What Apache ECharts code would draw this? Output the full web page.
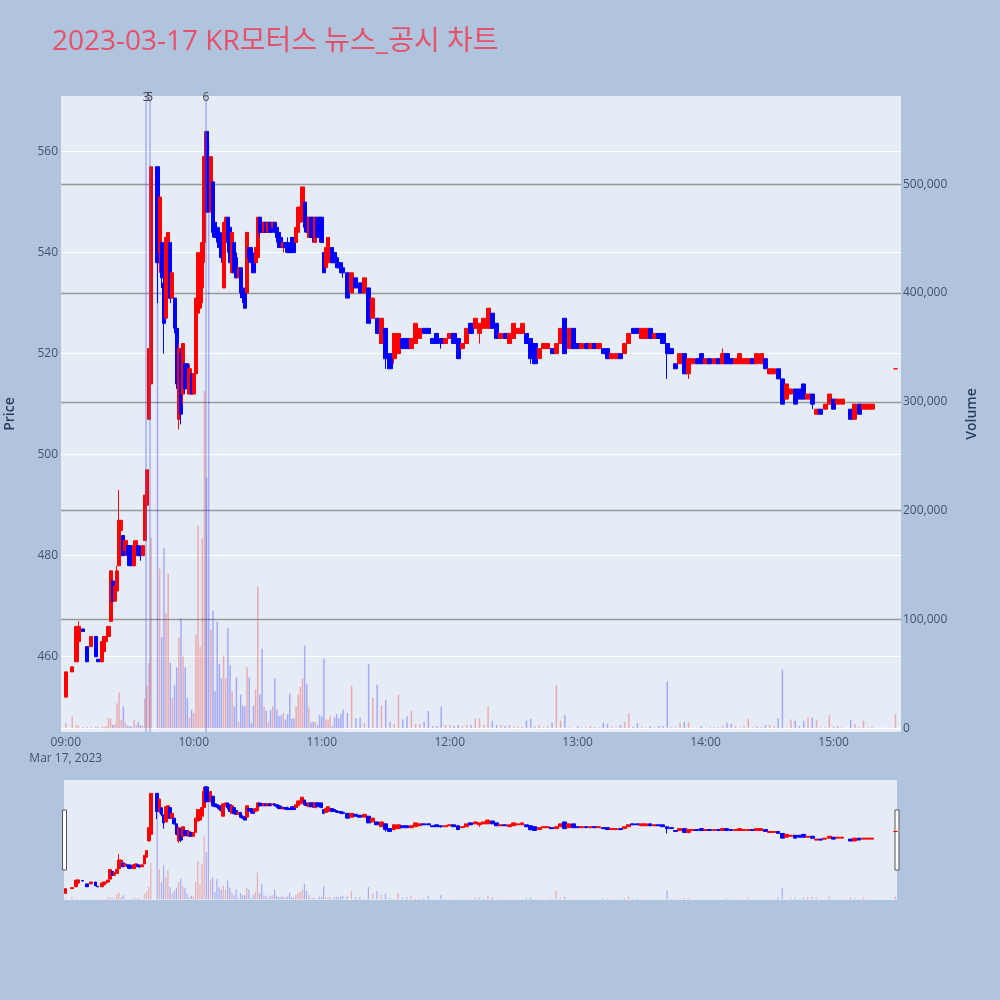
<!DOCTYPE html>
<html>
<head>
<meta charset="utf-8">
<title>KR모터스 뉴스_공시 차트</title>
<script src="https://cdn.jsdelivr.net/npm/echarts@6/dist/echarts.min.js"></script>
<style>
  html, body { margin: 0; padding: 0; background: #B0C4DE; }
  #chart { width: 1000px; height: 1000px; }
</style>
</head>
<body>
<div id="chart"></div>
<script>
// 분봉 데이터 (09:00 기준 경과 분)
const times = [
  0, 3, 5, 6, 8, 10, 12, 14, 15, 17,
  18, 19, 20, 21, 22, 23, 24, 25, 26, 27,
  28, 29, 30, 31, 32, 33, 34, 35, 36, 37,
  38, 39, 40, 43, 44, 45, 46, 47, 48, 49,
  50, 51, 52, 53, 54, 55, 56, 57, 58, 59,
  60, 61, 62, 63, 64, 65, 66, 67, 68, 69,
  70, 71, 72, 73, 74, 75, 76, 77, 78, 79,
  80, 81, 82, 83, 84, 85, 86, 87, 88, 89,
  90, 91, 92, 93, 94, 95, 96, 97, 98, 99,
  100, 101, 102, 103, 104, 105, 106, 107, 108, 109,
  110, 111, 112, 113, 114, 115, 116, 117, 118, 119,
  120, 121, 122, 123, 124, 125, 126, 127, 128, 129,
  130, 132, 134, 136, 138, 140, 142, 144, 146, 148,
  150, 152, 154, 156, 158, 160, 162, 164, 166, 168,
  170, 172, 174, 176, 178, 180, 182, 184, 186, 188,
  190, 192, 194, 196, 198, 200, 202, 204, 206, 208,
  210, 212, 214, 216, 218, 220, 222, 224, 226, 228,
  230, 232, 234, 236, 238, 240, 242, 244, 246, 248,
  250, 252, 254, 256, 258, 260, 262, 264, 266, 268,
  270, 272, 274, 276, 278, 280, 282, 284, 286, 288,
  290, 292, 294, 296, 298, 300, 302, 304, 306, 308,
  310, 312, 314, 316, 318, 320, 322, 324, 326, 328,
  330, 332, 334, 336, 338, 340, 342, 344, 346, 348,
  350, 352, 354, 356, 358, 360, 362, 364, 368, 370,
  372, 374, 376, 378, 389
];
const opens = [
  452, 457, 459, 463, 465.5, 462, 462, 464, 459.5, 459,
  461, 463, 464, 467, 475, 471, 473, 478, 485, 484,
  481, 482, 482, 481, 478, 482, 482, 481, 480, 483,
  490, 507, 514, 557, 540, 542, 534, 527, 531, 542,
  531, 531, 525, 507, 520, 512, 518, 518, 512, 516,
  512, 516, 528, 529, 533, 542, 564, 556, 548, 554,
  546, 545, 544, 542, 533, 544, 547, 545, 536, 542,
  539, 535, 537, 533, 532, 532, 541, 541, 539, 538,
  539, 547, 546, 544, 546, 544, 546, 545, 546, 545,
  544, 543, 541, 542, 542, 541, 543, 543, 542, 544,
  546, 548, 550, 547, 543, 547, 547, 542, 547, 547,
  547, 540, 537, 538, 539, 541, 540, 539, 538, 538,
  537, 536, 532, 535, 534, 532, 533, 527, 527, 522,
  525, 520, 519, 520, 523, 523, 521, 522, 523, 525,
  525, 523, 524, 523, 522, 523, 524, 523, 521, 522,
  526, 525, 524, 525, 525, 528, 526, 523, 524, 522,
  523, 524, 524, 524, 523, 522, 519, 521, 521, 521,
  520, 522, 527, 521, 525, 522, 521, 522, 521, 522,
  521, 521, 521, 519, 519, 520, 520, 522, 525, 525,
  523, 523, 525, 523, 524, 524, 522, 521, 518, 518,
  520, 516, 518, 519, 520, 518, 519, 518, 519, 518,
  520, 519, 518, 518, 518, 518, 519, 518, 518, 519,
  516, 516, 517, 515, 511, 512, 513, 513, 514, 511,
  512, 508, 509, 509, 510, 511, 510, 510, 509, 507,
  510, 509, 509, 509, 517
];
const closes = [
  457, 458, 466, 466, 465, 459, 464, 460, 459, 463,
  464, 464, 466, 477, 471, 474, 477, 487, 487, 480,
  483, 480, 478, 479, 482, 483, 480, 480, 482, 492,
  497, 521, 557, 538, 551, 535, 526, 543, 544, 531,
  536, 525, 514, 521, 508, 522, 513, 515, 517, 512,
  516, 531, 540, 534, 542, 559, 548, 549, 559, 544,
  543, 543, 541, 539, 546, 547, 542, 538, 544, 536,
  535, 537, 532, 531, 529, 544, 539, 538, 536, 541,
  547, 544, 544, 546, 544, 546, 544, 546, 544, 543,
  541, 541, 542, 541, 540, 540, 540, 540, 545, 549,
  549, 553, 545, 544, 547, 543, 543, 547, 543, 544,
  542, 536, 541, 543, 541, 538, 538, 537, 537, 536,
  536, 531, 536, 533, 532, 535, 526, 531, 524, 527,
  519, 517, 524, 524, 521, 521, 523, 526, 525, 524,
  524, 522, 522, 522, 523, 524, 522, 519, 522, 525,
  524, 527, 526, 527, 529, 525, 523, 524, 523, 524,
  526, 525, 526, 522, 519, 518, 521, 522, 522, 520,
  522, 525, 520, 525, 521, 521, 522, 521, 522, 521,
  522, 520, 519, 520, 520, 519, 522, 524, 524, 524,
  525, 525, 523, 524, 523, 522, 520, 520, 517, 520,
  516, 519, 519, 518, 518, 519, 518, 519, 518, 520,
  518, 518, 519, 520, 519, 519, 518, 520, 520, 517,
  517, 517, 515, 510, 514, 513, 510, 511, 511, 512,
  510, 509, 508, 510, 512, 509, 511, 511, 507, 510,
  508, 510, 510, 510, 517
];
const lows = [
  452, 457, 459, 462, 465, 459, 462, 460, 459, 459,
  461, 463, 464, 467, 471, 471, 473, 478, 485, 480,
  480, 478, 478, 478, 478, 482, 480, 479, 480, 483,
  490, 507, 507, 530, 536, 533, 520, 527, 531, 530,
  531, 524, 513, 505, 506, 510, 512, 512, 512, 512,
  512, 516, 528, 529, 530, 538, 548, 548, 548, 543,
  543, 542, 540, 538, 533, 543, 540, 538, 536, 535,
  535, 535, 531, 530, 529, 532, 538, 536, 536, 538,
  538, 543, 544, 544, 544, 544, 544, 545, 544, 542,
  541, 541, 540, 540, 540, 540, 540, 540, 542, 544,
  546, 546, 544, 544, 543, 543, 542, 542, 543, 542,
  542, 536, 537, 538, 539, 538, 538, 537, 537, 536,
  535, 531, 532, 533, 532, 532, 526, 527, 524, 522,
  517, 517, 518, 520, 521, 521, 521, 522, 523, 524,
  524, 522, 522, 521, 522, 523, 522, 519, 521, 522,
  524, 525, 522, 525, 525, 525, 523, 523, 523, 522,
  523, 524, 524, 522, 518, 518, 519, 521, 521, 520,
  520, 522, 520, 521, 521, 521, 521, 521, 521, 521,
  521, 520, 519, 519, 519, 519, 520, 522, 524, 524,
  523, 523, 523, 523, 523, 522, 515, 520, 517, 518,
  516, 515, 518, 518, 518, 518, 518, 518, 518, 518,
  518, 518, 518, 518, 518, 518, 518, 518, 518, 517,
  516, 516, 515, 510, 511, 512, 510, 511, 511, 511,
  509, 508, 508, 509, 510, 509, 510, 510, 507, 507,
  508, 509, 509, 509, 517
];
const highs = [
  457, 458, 466, 467, 465.5, 462, 464, 464, 459.5, 463,
  464, 464, 466, 477, 475, 474, 478, 493, 487, 484,
  483, 482, 482, 482, 483, 483, 482, 482, 482, 492,
  497, 521, 557, 557, 551, 542, 535, 543, 544, 542,
  536, 531, 525, 522, 521, 522, 518, 518, 518, 516,
  516, 531, 540, 534, 542, 564, 564, 564, 559, 554,
  546, 546, 545, 544, 546, 547, 547, 546, 544, 542,
  540, 537, 537, 534, 533, 544, 541, 541, 540, 541,
  547, 547, 547, 546, 546, 546, 546, 546, 546, 545,
  544, 543, 542, 542, 543, 541, 543, 543, 545, 549,
  549, 553, 550, 547, 547, 547, 547, 547, 547, 547,
  547, 540, 541, 543, 541, 541, 540, 539, 538, 538,
  537, 536, 536, 535, 534, 535, 533, 531, 527, 527,
  525, 520, 524, 524, 523, 523, 523, 526, 525, 525,
  525, 523, 524, 523, 523, 524, 524, 523, 522, 525,
  526, 527, 526, 527, 529, 528, 526, 524, 524, 524,
  526, 525, 526, 524, 523, 522, 521, 522, 522, 521,
  522, 525, 527, 525, 525, 522, 522, 522, 522, 522,
  522, 521, 521, 520, 520, 520, 522, 524, 525, 525,
  525, 525, 525, 524, 524, 524, 522, 521, 518, 520,
  520, 519, 519, 519, 520, 519, 519, 519, 519, 521,
  520, 519, 519, 520, 519, 519, 519, 520, 520, 519,
  517, 517, 517, 515, 514, 513, 513, 513, 514, 512,
  512, 509, 509, 510, 512, 511, 511, 511, 509, 510,
  510, 510, 510, 510, 517
];
const volumes = [
  4600, 11000, 3000, 2000, 1000, 1000, 1500, 1000, 1000, 1500,
  1200, 2000, 9000, 9000, 3000, 4000, 23000, 33000, 8000, 20000,
  5000, 2000, 2000, 1500, 8000, 3000, 6000, 3000, 2500, 27000,
  39000, 60000, 175000, 505000, 147000, 84000, 166000, 106000, 142000, 60000,
  28000, 40000, 56000, 83000, 101000, 66000, 56000, 28000, 10000, 17000,
  14000, 86000, 186000, 75000, 174000, 310000, 230000, 540000, 91000, 108000,
  34000, 98000, 59000, 46000, 67000, 46000, 92000, 58000, 34000, 20000,
  47000, 6000, 31000, 21000, 20000, 56000, 47000, 5000, 21000, 36000,
  130000, 31000, 73000, 20000, 16000, 6000, 17000, 20000, 46000, 17000,
  11000, 12000, 14000, 8000, 13000, 32000, 9000, 9000, 20000, 31000,
  38000, 46000, 76000, 41000, 19000, 5000, 6000, 6000, 3000, 12000,
  11000, 64000, 8000, 8000, 11000, 2000, 10000, 13000, 9000, 13000,
  17000, 14000, 39000, 9000, 10000, 5000, 59000, 28000, 40000, 21000,
  26000, 6000, 4000, 31000, 8000, 11000, 16000, 4000, 4000, 6000,
  16000, 2000, 2000, 20000, 3000, 3000, 2000, 3000, 2000, 3000,
  3000, 9000, 9000, 3000, 20000, 7000, 3000, 3000, 2000, 3000,
  1500, 1500, 1500, 7000, 8600, 1500, 3000, 1000, 2000, 5000,
  40000, 7000, 12000, 1000, 500, 2000, 1000, 1000, 2000, 1000,
  1000, 5000, 4000, 1500, 1000, 3000, 6000, 14000, 1500, 5000,
  1500, 1000, 2000, 1000, 2000, 2000, 43000, 1000, 1000, 5000,
  6000, 6000, 500, 500, 2000, 500, 1000, 1000, 1000, 2000,
  5000, 4000, 2000, 1000, 2000, 9000, 1000, 2000, 1000, 3000,
  3000, 2000, 9000, 54000, 1000, 8000, 7000, 2000, 7000, 10000,
  10000, 8000, 1000, 1000, 12000, 1500, 2000, 1000, 8000, 4000,
  1000, 7000, 1000, 1500, 13000
];

// 뉴스/공시 표시
const newsTimes = [37.7, 39.3, 65.7];
const newsLabels = ['3', '5', '6'];

// 축 눈금
const hourTicks = [0, 60, 120, 180, 240, 300, 360];
const hourLabels = ['09:00', '10:00', '11:00', '12:00', '13:00', '14:00', '15:00'];
const dateLabel = 'Mar 17, 2023';
const priceTicks = [460, 480, 500, 520, 540, 560];
const volumeTicks = [0, 100000, 200000, 300000, 400000, 500000];

const UP = '#ff0000';
const DOWN = '#0000ff';
const UP_FADE = 'rgba(255, 0, 0, 0.28)';
const DOWN_FADE = 'rgba(0, 0, 255, 0.28)';
const FONT = "'Open Sans', 'Noto Sans CJK KR', sans-serif";
const TICK_COLOR = '#44546a';
const TITLE_COLOR = '#2a3f5f';

function isUp(i) {
  if (closes[i] !== opens[i]) return closes[i] > opens[i];
  return i === 0 || closes[i - 1] <= closes[i];
}

const candleData = times.map((t, i) => [t, opens[i], closes[i], lows[i], highs[i]]);
// 오전 장초반은 1분 간격, 이후는 2분 간격으로 읽어서 캔들 폭을 다르게 준다
const candleEarly = candleData.filter(d => d[0] <= 130);
const candleLate = candleData.filter(d => d[0] > 130);
const volumeData = times.map((t, i) => ({
  value: [t, volumes[i]],
  itemStyle: { color: isUp(i) ? UP_FADE : DOWN_FADE }
}));

const candleStyle = {
  color: UP,
  color0: DOWN,
  borderColor: UP,
  borderColor0: DOWN,
  borderWidth: 1
};

function candleSeries(name, data, xi, yi, width) {
  return {
    name: name,
    type: 'candlestick',
    xAxisIndex: xi, yAxisIndex: yi,
    barWidth: width,
    z: 3,
    itemStyle: candleStyle,
    data: data
  };
}

const chart = echarts.init(document.getElementById('chart'));

chart.setOption({
  animation: false,
  backgroundColor: '#B0C4DE',
  textStyle: { fontFamily: FONT },
  title: {
    text: '2023-03-17 KR모터스 뉴스_공시 차트',
    left: 47,
    top: 23,
    textStyle: { color: '#E8506A', fontSize: 28, fontWeight: 'normal', fontFamily: FONT }
  },
  grid: [
    { left: 61, right: 99, top: 96, bottom: 268, show: true, backgroundColor: '#E5ECF6', borderWidth: 0, outerBoundsMode: 'none' },
    { left: 64, right: 103, top: 780, height: 120, show: true, backgroundColor: '#E5ECF6', borderWidth: 0, outerBoundsMode: 'none' }
  ],
  xAxis: [
    {
      type: 'value', gridIndex: 0, min: -2.25, max: 391.6,
      axisLine: { show: false },
      axisTick: { show: false, customValues: hourTicks },
      splitLine: { show: false },
      axisLabel: {
        customValues: hourTicks,
        color: TICK_COLOR, fontSize: 12, margin: 3, lineHeight: 16,
        formatter: v => {
          const k = hourTicks.indexOf(v);
          return k === 0 ? hourLabels[k] + '\n' + dateLabel : hourLabels[k];
        }
      }
    },
    { type: 'value', gridIndex: 1, min: -0.7, max: 389.8, show: false }
  ],
  yAxis: [
    {
      type: 'value', gridIndex: 0, position: 'left', min: 445.1, max: 571,
      name: 'Price', nameLocation: 'middle', nameGap: 44, nameRotate: 90,
      nameTextStyle: { color: TITLE_COLOR, fontSize: 14, fontWeight: 600 },
      axisLine: { show: false },
      axisTick: { show: false, customValues: priceTicks },
      axisLabel: { customValues: priceTicks, color: TICK_COLOR, fontSize: 12, margin: 3 },
      splitLine: { lineStyle: { color: '#ffffff', width: 1 } }
    },
    {
      type: 'value', gridIndex: 0, position: 'right', min: -3400, max: 581000,
      name: 'Volume', nameLocation: 'middle', nameGap: 64, nameRotate: 90,
      nameTextStyle: { color: TITLE_COLOR, fontSize: 14, fontWeight: 600 },
      axisLine: { show: false },
      axisTick: { show: false, customValues: volumeTicks },
      axisLabel: {
        customValues: volumeTicks, color: TICK_COLOR, fontSize: 12, margin: 2,
        formatter: v => v.toLocaleString('en-US')
      },
      splitLine: {
        lineStyle: { color: ['#ffffff', '#999999', '#999999', '#999999', '#999999', '#999999'], width: 1.3 }
      }
    },
    { type: 'value', gridIndex: 1, min: 445.1, max: 571, show: false },
    { type: 'value', gridIndex: 1, min: -3400, max: 581000, show: false }
  ],
  series: [
    {
      name: 'volume',
      type: 'bar',
      xAxisIndex: 0, yAxisIndex: 1,
      barWidth: 1.5,
      z: 1,
      data: volumeData,
      markLine: {
        silent: true,
        symbol: ['none', 'none'],
        lineStyle: { color: 'rgba(90, 110, 230, 0.35)', width: 2, type: 'solid' },
        label: { show: true, position: 'end', distance: -8, color: '#444', fontSize: 12, formatter: p => p.name },
        data: newsTimes.map((t, i) => ({ xAxis: t, name: newsLabels[i] }))
      }
    },
    candleSeries('price', candleEarly, 0, 0, 3.6),
    candleSeries('price-late', candleLate, 0, 0, 4.6),
    {
      name: 'volume-mini',
      type: 'bar',
      xAxisIndex: 1, yAxisIndex: 3,
      barWidth: 1.2,
      z: 1,
      data: volumeData
    },
    candleSeries('price-mini', candleEarly, 1, 2, 3.2),
    candleSeries('price-mini-late', candleLate, 1, 2, 4.4)
  ],
  graphic: [
    { type: 'rect', shape: { x: 62.5, y: 810, width: 4, height: 60 }, style: { fill: '#ffffff', stroke: '#555', lineWidth: 1 } },
    { type: 'rect', shape: { x: 895, y: 810, width: 4, height: 60 }, style: { fill: '#ffffff', stroke: '#555', lineWidth: 1 } }
  ]
});
</script>
</body>
</html>
